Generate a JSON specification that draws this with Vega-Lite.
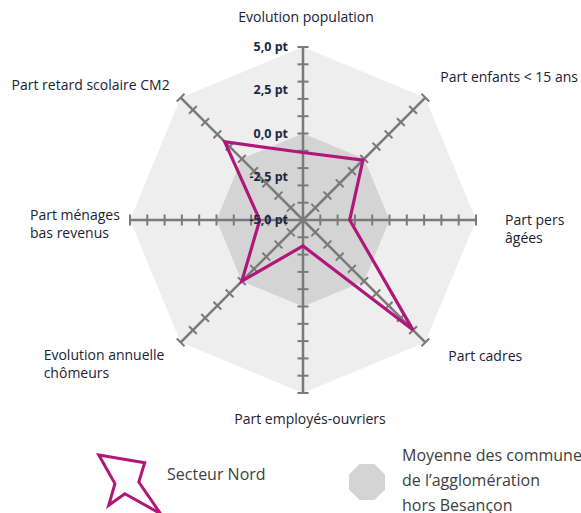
{
  "$schema": "https://vega.github.io/schema/vega-lite/v6.json",
  "width": 581,
  "height": 513,
  "padding": 0,
  "autosize": {"type": "none"},
  "background": "white",
  "config": {"view": {"stroke": null}, "font": "Open Sans", "style": {"guide-label": {"lineHeight": 25, "dy": -26}}},
  "datasets": {
    "axes": [
      {"k": 0, "axe": "Evolution population", "nord": -1.1, "moy": 0, "g": [-4, -3, -2, -1, 0, 1, 2, 3, 4, 5]},
      {"k": 1, "axe": "Part enfants < 15 ans", "nord": -0.1, "moy": 0, "g": [-4, -3, -2, -1, 0, 1, 2, 3, 4, 5]},
      {"k": 2, "axe": "Part pers\nâgées", "nord": -2.3, "moy": 0, "g": [-4, -3, -2, -1, 0, 1, 2, 3, 4, 5]},
      {"k": 3, "axe": "Part cadres", "nord": 4.0, "moy": 0, "g": [-4, -3, -2, -1, 0, 1, 2, 3, 4, 5]},
      {"k": 4, "axe": "Part employés-ouvriers", "nord": -3.5, "moy": 0, "g": [-4, -3, -2, -1, 0, 1, 2, 3, 4, 5]},
      {"k": 5, "axe": "Evolution annuelle\nchômeurs", "nord": 0.0, "moy": 0, "g": [-4, -3, -2, -1, 0, 1, 2, 3, 4, 5]},
      {"k": 6, "axe": "Part ménages\nbas revenus", "nord": -2.5, "moy": 0, "g": [-4, -3, -2, -1, 0, 1, 2, 3, 4, 5]},
      {"k": 7, "axe": "Part retard scolaire CM2", "nord": 1.4, "moy": 0, "g": [-4, -3, -2, -1, 0, 1, 2, 3, 4, 5]}
    ],
    "grad": [
      {"v": 5, "lab": "5,0 pt"},
      {"v": 2.5, "lab": "2,5 pt"},
      {"v": 0, "lab": "0,0 pt"},
      {"v": -2.5, "lab": "-2,5 pt"},
      {"v": -5, "lab": "-5,0 pt"}
    ]
  },
  "data": {"name": "axes"},
  "encoding": {
    "x": {"field": "px", "type": "quantitative", "scale": {"domain": [-17.514, 16.069], "nice": false, "zero": false}, "axis": null},
    "y": {"field": "py", "type": "quantitative", "scale": {"domain": [-16.936, 12.717], "nice": false, "zero": false}, "axis": null}
  },
  "layer": [
    {
      "transform": [
        {"calculate": "datum.k*PI/4", "as": "a"},
        {"calculate": "10*sin(datum.a)", "as": "px"},
        {"calculate": "10*cos(datum.a)", "as": "py"}
      ],
      "mark": {"type": "line", "interpolate": "linear-closed", "fill": "#eeeeee", "stroke": "#eeeeee", "strokeWidth": 0},
      "encoding": {"order": {"field": "k", "type": "quantitative"}}
    },
    {
      "transform": [
        {"calculate": "datum.k*PI/4", "as": "a"},
        {"calculate": "(datum.moy+5)*sin(datum.a)", "as": "px"},
        {"calculate": "(datum.moy+5)*cos(datum.a)", "as": "py"}
      ],
      "mark": {"type": "line", "interpolate": "linear-closed", "strokeWidth": 0, "fillOpacity": 1},
      "encoding": {
        "order": {"field": "k", "type": "quantitative"},
        "fill": {
          "datum": "moy",
          "type": "nominal",
          "scale": {"domain": ["moy"], "range": ["#d4d4d4"]},
          "legend": {
            "title": null,
            "orient": "none",
            "legendX": 349,
            "legendY": 464,
            "padding": 0,
            "symbolType": "M0.414,-1L1,-0.414L1,0.414L0.414,1L-0.414,1L-1,0.414L-1,-0.414L-0.414,-1Z",
            "symbolSize": 1296,
            "symbolStrokeWidth": 0,
            "symbolOpacity": 1,
            "labelExpr": "['Moyenne des communes', 'de l’agglomération', 'hors Besançon']",
            "labelFont": "Open Sans",
            "labelFontSize": 16,
            "labelColor": "#404040",
            "labelOffset": 17,
            "labelLimit": 0
          }
        }
      }
    },
    {
      "transform": [
        {"calculate": "datum.k*PI/4", "as": "a"},
        {"calculate": "10*sin(datum.a)", "as": "px"},
        {"calculate": "10*cos(datum.a)", "as": "py"}
      ],
      "mark": {"type": "rule", "stroke": "#7a7a7a", "strokeWidth": 2.5},
      "encoding": {"x2": {"datum": 0}, "y2": {"datum": 0}}
    },
    {
      "transform": [
        {"flatten": ["g"]},
        {"calculate": "datum.k*PI/4", "as": "a"},
        {"calculate": "(datum.g+5)*sin(datum.a)", "as": "px"},
        {"calculate": "(datum.g+5)*cos(datum.a)", "as": "py"},
        {"calculate": "datum.k*45", "as": "deg"}
      ],
      "mark": {"type": "point", "shape": "M-1,0L1,0", "size": 121, "filled": false, "stroke": "#7a7a7a", "strokeWidth": 2, "opacity": 1},
      "encoding": {"angle": {"field": "deg", "type": "quantitative", "scale": null}}
    },
    {
      "transform": [
        {"calculate": "datum.k*PI/4", "as": "a"},
        {"calculate": "(datum.nord+5)*sin(datum.a)", "as": "px"},
        {"calculate": "(datum.nord+5)*cos(datum.a)", "as": "py"}
      ],
      "mark": {"type": "line", "interpolate": "linear-closed", "strokeWidth": 3.2, "strokeJoin": "miter"},
      "encoding": {
        "order": {"field": "k", "type": "quantitative"},
        "stroke": {
          "datum": "nord",
          "type": "nominal",
          "scale": {"domain": ["nord"], "range": ["#b1167a"]},
          "legend": {
            "title": null,
            "orient": "none",
            "legendX": 97,
            "legendY": 452,
            "padding": 0,
            "symbolType": "M-0.99,-0.95L0.49,-0.7L0.3,-0.08L1,0.94L-0.15,0.3L-0.67,0.67L-0.47,-0.03Z",
            "symbolSize": 3844,
            "symbolStrokeWidth": 3,
            "symbolFillColor": "transparent",
            "symbolStrokeColor": "#b1167a",
            "labelExpr": "'Secteur Nord'",
            "labelFont": "Open Sans",
            "labelFontSize": 16,
            "labelColor": "#404040",
            "labelOffset": 5,
            "labelLimit": 0,
            "encode": {"labels": {"update": {"dy": {"value": -10}}}}
          }
        }
      }
    },
    {
      "data": {"name": "grad"},
      "transform": [
        {"calculate": "0", "as": "px"},
        {"calculate": "datum.v+5", "as": "py"}
      ],
      "mark": {"type": "text", "align": "right", "baseline": "middle", "dx": -15, "font": "Open Sans", "fontSize": 12.5, "fontWeight": "bold", "fill": "#1d2741"},
      "encoding": {"text": {"field": "lab"}}
    },
    {
      "transform": [
        {"filter": "datum.k == 0"},
        {"calculate": "0", "as": "px"},
        {"calculate": "10", "as": "py"}
      ],
      "mark": {"type": "text", "align": "center", "baseline": "middle", "dx": 3, "dy": -29, "fontSize": 14, "fill": "#1b2233"},
      "encoding": {"text": {"field": "axe"}}
    },
    {
      "transform": [
        {"filter": "datum.k == 1"},
        {"calculate": "10*sin(PI/4)", "as": "px"},
        {"calculate": "10*cos(PI/4)", "as": "py"}
      ],
      "mark": {"type": "text", "align": "left", "baseline": "middle", "dx": 15, "dy": -20, "fontSize": 14, "fill": "#1b2233"},
      "encoding": {"text": {"field": "axe"}}
    },
    {
      "transform": [
        {"filter": "datum.k == 2"},
        {"calculate": "10", "as": "px"},
        {"calculate": "0", "as": "py"}
      ],
      "mark": {"type": "text", "align": "left", "baseline": "middle", "dx": 29, "dy": 1, "fontSize": 14, "lineHeight": 18, "lineBreak": "\n", "fill": "#1b2233"},
      "encoding": {"text": {"field": "axe"}}
    },
    {
      "transform": [
        {"filter": "datum.k == 3"},
        {"calculate": "10*sin(PI/4)", "as": "px"},
        {"calculate": "-10*cos(PI/4)", "as": "py"}
      ],
      "mark": {"type": "text", "align": "left", "baseline": "middle", "dx": 23, "dy": 15, "fontSize": 14, "fill": "#1b2233"},
      "encoding": {"text": {"field": "axe"}}
    },
    {
      "transform": [
        {"filter": "datum.k == 4"},
        {"calculate": "0", "as": "px"},
        {"calculate": "-10", "as": "py"}
      ],
      "mark": {"type": "text", "align": "center", "baseline": "middle", "dx": 7, "dy": 27, "fontSize": 14, "fill": "#1b2233"},
      "encoding": {"text": {"field": "axe"}}
    },
    {
      "transform": [
        {"filter": "datum.k == 5"},
        {"calculate": "-10*sin(PI/4)", "as": "px"},
        {"calculate": "-10*cos(PI/4)", "as": "py"}
      ],
      "mark": {"type": "text", "align": "left", "baseline": "middle", "dx": -137, "dy": 14, "fontSize": 14, "lineHeight": 18, "lineBreak": "\n", "fill": "#1b2233"},
      "encoding": {"text": {"field": "axe"}}
    },
    {
      "transform": [
        {"filter": "datum.k == 6"},
        {"calculate": "-10", "as": "px"},
        {"calculate": "0", "as": "py"}
      ],
      "mark": {"type": "text", "align": "left", "baseline": "middle", "dx": -100, "dy": -4, "fontSize": 14, "lineHeight": 18, "lineBreak": "\n", "fill": "#1b2233"},
      "encoding": {"text": {"field": "axe"}}
    },
    {
      "transform": [
        {"filter": "datum.k == 7"},
        {"calculate": "-10*sin(PI/4)", "as": "px"},
        {"calculate": "10*cos(PI/4)", "as": "py"}
      ],
      "mark": {"type": "text", "align": "right", "baseline": "middle", "dx": -11, "dy": -12, "fontSize": 14, "fill": "#1b2233"},
      "encoding": {"text": {"field": "axe"}}
    }
  ]
}
